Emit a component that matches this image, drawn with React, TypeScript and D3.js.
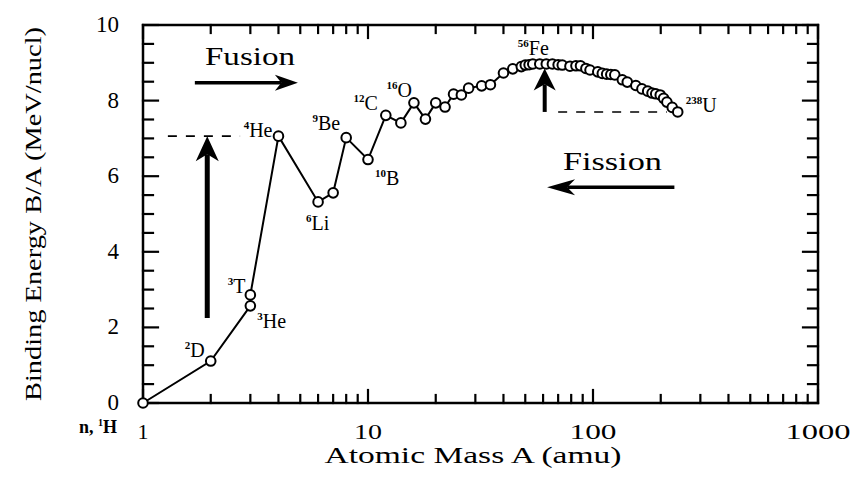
import { useEffect, useRef } from 'react';
import * as d3 from 'd3';

// binding energy per nucleon
const massNumbers = [1, 2, 3, 3, 4, 6, 7, 8, 10, 12, 14, 16, 18, 20, 22, 24, 26, 28, 32, 35, 40, 44, 48, 50, 52, 54, 58, 62, 66, 70, 73, 79, 84, 88, 93, 97, 105, 110, 115, 120, 125, 135, 142, 155, 165, 175, 183, 190, 199, 206, 213, 225, 238];
const bindingEnergies = [0, 1.11, 2.57, 2.86, 7.06, 5.32, 5.56, 7.02, 6.44, 7.61, 7.41, 7.94, 7.51, 7.94, 7.83, 8.17, 8.15, 8.33, 8.39, 8.42, 8.73, 8.84, 8.9, 8.94, 8.95, 8.97, 8.97, 8.97, 8.97, 8.95, 8.94, 8.91, 8.92, 8.92, 8.85, 8.81, 8.76, 8.72, 8.7, 8.69, 8.68, 8.55, 8.49, 8.4, 8.31, 8.25, 8.2, 8.18, 8.15, 8.06, 7.96, 7.82, 7.7];

// labelled nuclides (index into the arrays above)
const labelIndex = [1, 3, 2, 4, 5, 7, 8, 9, 11, 26, 52];
const labelMass = ['2', '3', '3', '4', '6', '9', '10', '12', '16', '56', '238'];
const labelSymbol = ['D', 'T', 'He', 'He', 'Li', 'Be', 'B', 'C', 'O', 'Fe', 'U'];

const xTickValues = [1, 10, 100, 1000];
const yTickValues = [0, 2, 4, 6, 8, 10];

const FONT = "'Liberation Serif', 'Times New Roman', serif";
const INK = '#000';

function BindingEnergyChart() {
  const svgRef = useRef<SVGSVGElement>(null);

  useEffect(() => {
    const svg = d3.select(svgRef.current);
    svg.selectAll('*').remove();

    const left = 143, right = 818, plotTop = 25, plotBottom = 403;
    const x = d3.scaleLog().domain([1, 1000]).range([left, right]);
    const y = d3.scaleLinear().domain([0, 10]).range([plotBottom, plotTop]);

    svg
      .append('rect')
      .attr('x', left)
      .attr('y', plotTop)
      .attr('width', right - left)
      .attr('height', plotBottom - plotTop)
      .attr('fill', 'none')
      .attr('stroke', INK)
      .attr('stroke-width', 2.5);

    // inward ticks on all four sides
    const minorX: number[] = [];
    [1, 10, 100].forEach((d) => d3.range(2, 10).forEach((k) => minorX.push(k * d)));
    const minorY = d3.range(0, 10.01, 0.5).filter((v) => v % 2 !== 0);
    const tickG = svg.append('g').attr('stroke', INK).attr('stroke-width', 2.2).attr('stroke-linecap', 'square');
    const xTicks = (vals: number[], len: number) =>
      vals.forEach((v) => {
        tickG.append('line').attr('x1', x(v)).attr('x2', x(v)).attr('y1', plotBottom).attr('y2', plotBottom - len);
        tickG.append('line').attr('x1', x(v)).attr('x2', x(v)).attr('y1', plotTop).attr('y2', plotTop + len);
      });
    const yTicks = (vals: number[], len: number) =>
      vals.forEach((v) => {
        tickG.append('line').attr('x1', left).attr('x2', left + len).attr('y1', y(v)).attr('y2', y(v));
        tickG.append('line').attr('x1', right).attr('x2', right - len).attr('y1', y(v)).attr('y2', y(v));
      });
    xTicks(minorX, 8);
    xTicks(xTickValues, 13);
    yTicks(minorY, 10);
    yTicks(yTickValues, 15);

    // tick labels
    const xLabelWidth: Record<string, number> = { '1': 0, '10': 28, '100': 47, '1000': 65 };
    xTickValues.forEach((v) => {
      const t = svg
        .append('text')
        .attr('x', x(v))
        .attr('y', 439)
        .attr('text-anchor', 'middle')
        .attr('font-family', FONT)
        .attr('font-size', 22)
        .attr('fill', INK)
        .text(String(v));
      if (xLabelWidth[String(v)]) t.attr('textLength', xLabelWidth[String(v)]).attr('lengthAdjust', 'spacingAndGlyphs');
    });
    yTickValues.forEach((v) => {
      svg
        .append('text')
        .attr('x', 119)
        .attr('y', y(v) + 7)
        .attr('text-anchor', 'end')
        .attr('font-family', FONT)
        .attr('font-size', 23)
        .attr('fill', INK)
        .text(String(v));
    });

    const nH = svg
      .append('text')
      .attr('x', 117)
      .attr('y', 433)
      .attr('text-anchor', 'end')
      .attr('font-family', FONT)
      .attr('font-size', 18)
      .attr('font-weight', 'bold')
      .attr('fill', INK);
    nH.append('tspan').text('n, ');
    nH.append('tspan').attr('font-size', 10).attr('dy', -7).text('1');
    nH.append('tspan').attr('dy', 7).text('H');

    // axis titles
    svg
      .append('text')
      .attr('x', 473)
      .attr('y', 463)
      .attr('text-anchor', 'middle')
      .attr('font-family', FONT)
      .attr('font-size', 23)
      .attr('fill', INK)
      .attr('textLength', 297)
      .attr('lengthAdjust', 'spacingAndGlyphs')
      .text('Atomic Mass A (amu)');
    svg
      .append('text')
      .attr('transform', 'translate(41,214) rotate(-90)')
      .attr('text-anchor', 'middle')
      .attr('font-family', FONT)
      .attr('font-size', 23)
      .attr('fill', INK)
      .attr('textLength', 374)
      .attr('lengthAdjust', 'spacingAndGlyphs')
      .text('Binding Energy B/A (MeV/nucl)');

    // dashed reference levels
    const fusionLevel = bindingEnergies[4];
    const fissionLevel = bindingEnergies[52];
    const dashed = (a1: number, a2: number, v: number) =>
      svg
        .append('line')
        .attr('x1', x(a1))
        .attr('x2', x(a2))
        .attr('y1', y(v))
        .attr('y2', y(v))
        .attr('stroke', INK)
        .attr('stroke-width', 1.6)
        .attr('stroke-dasharray', '9,9');
    dashed(1.29, 2.7, fusionLevel);
    dashed(70, 213, fissionLevel);

    // arrows
    const arrow = (x1: number, y1: number, x2: number, y2: number, len: number, w: number, shaft: number) => {
      const dx = x2 - x1, dy = y2 - y1;
      const d = Math.hypot(dx, dy);
      const ux = dx / d, uy = dy / d;
      const nx = -uy, ny = ux;
      const bx = x2 - ux * len, by = y2 - uy * len;
      const kx = x2 - ux * len * 0.72, ky = y2 - uy * len * 0.72;
      svg
        .append('line')
        .attr('x1', x1)
        .attr('y1', y1)
        .attr('x2', kx)
        .attr('y2', ky)
        .attr('stroke', INK)
        .attr('stroke-width', shaft);
      svg
        .append('path')
        .attr('d', `M${x2},${y2}L${bx + (nx * w) / 2},${by + (ny * w) / 2}L${kx},${ky}L${bx - (nx * w) / 2},${by - (ny * w) / 2}Z`)
        .attr('fill', INK);
    };
    arrow(x(1.93), y(2.25), x(1.93), y(fusionLevel), 25, 23, 5);
    arrow(x(61), y(fissionLevel), x(61), y(8.85), 22, 22, 4);
    arrow(x(1.7), y(8.47), x(4.88), y(8.47), 23, 16, 3.5);
    arrow(x(230), y(5.71), x(62.5), y(5.71), 28, 16, 3.5);

    svg
      .append('text')
      .attr('x', x(1.886))
      .attr('y', y(8.94))
      .attr('font-family', FONT)
      .attr('font-size', 25)
      .attr('fill', INK)
      .attr('textLength', 90)
      .attr('lengthAdjust', 'spacingAndGlyphs')
      .text('Fusion');
    svg
      .append('text')
      .attr('x', x(73.5))
      .attr('y', y(6.16))
      .attr('font-family', FONT)
      .attr('font-size', 25)
      .attr('fill', INK)
      .attr('textLength', 99)
      .attr('lengthAdjust', 'spacingAndGlyphs')
      .text('Fission');

    // curve + markers
    const points = massNumbers.map((a, i) => [a, bindingEnergies[i]] as [number, number]);
    const line = d3
      .line<[number, number]>()
      .x((d) => x(d[0]))
      .y((d) => y(d[1]));
    svg
      .append('path')
      .datum(points)
      .attr('d', line)
      .attr('fill', 'none')
      .attr('stroke', INK)
      .attr('stroke-width', 2);
    svg
      .selectAll('circle.pt')
      .data(points)
      .enter()
      .append('circle')
      .attr('class', 'pt')
      .attr('cx', (d) => x(d[0]))
      .attr('cy', (d) => y(d[1]))
      .attr('r', 4.8)
      .attr('fill', '#fff')
      .attr('stroke', INK)
      .attr('stroke-width', 2);

    // nuclide labels: [anchor, dx, dy]
    const offsets: [string, number, number][] = [
      ['end', -6, -4],
      ['end', -5, -2],
      ['start', 7, 22],
      ['end', -6, 1],
      ['start', -12, 28],
      ['end', -6, -8],
      ['start', 7, 25],
      ['end', -8, -5],
      ['end', -2, -6],
      ['start', -22, -9],
      ['start', 8, 0],
    ];
    labelIndex.forEach((idx, i) => {
      const [anchor, ox, oy] = offsets[i];
      const t = svg
        .append('text')
        .attr('x', x(massNumbers[idx]) + ox)
        .attr('y', y(bindingEnergies[idx]) + oy)
        .attr('text-anchor', anchor)
        .attr('font-family', FONT)
        .attr('font-size', 20)
        .attr('fill', INK);
      t.append('tspan').attr('font-size', 11).attr('font-weight', 'bold').attr('dy', -8).text(labelMass[i]);
      t.append('tspan').attr('dy', 8).text(labelSymbol[i]);
    });
  }, []);

  return <svg ref={svgRef} width={851} height={478} style={{ display: 'block' }} />;
}

export default function App() {
  return (
    <>
      <style>{'body{margin:0;background:#fff}'}</style>
      <BindingEnergyChart />
    </>
  );
}
